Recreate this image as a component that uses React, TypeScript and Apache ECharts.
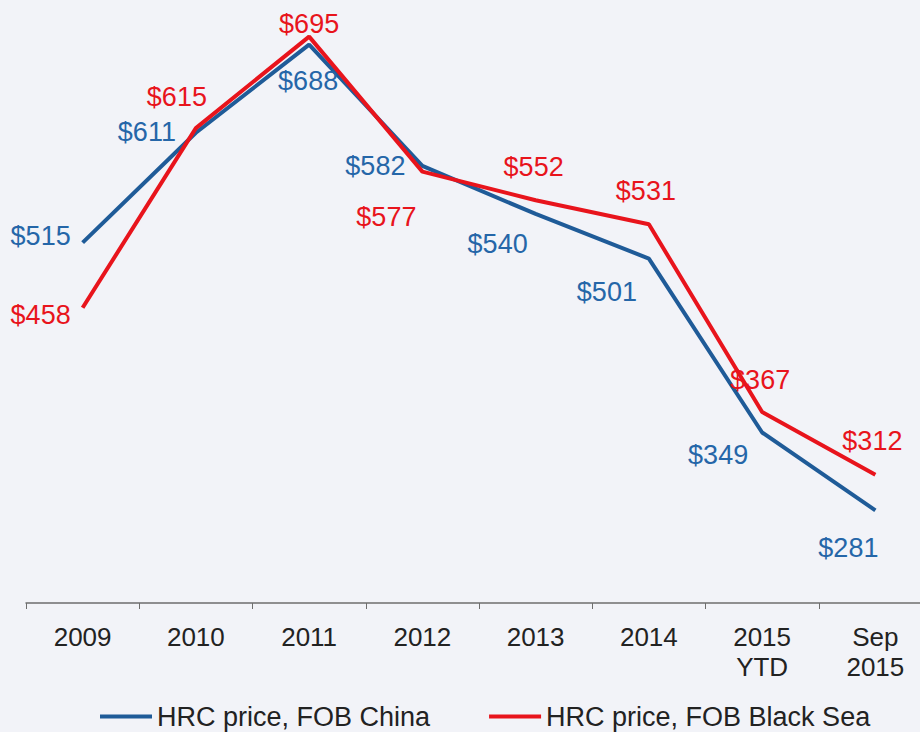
import React, { useEffect, useRef } from "react";
import * as echarts from "echarts";

const categories = ["2009", "2010", "2011", "2012", "2013", "2014", "2015\nYTD", "Sep\n2015"];
const chinaValues = [515, 611, 688, 582, 540, 501, 349, 281];
const blackSeaValues = [458, 615, 695, 577, 552, 531, 367, 312];
const seriesNames = ["HRC price, FOB China", "HRC price, FOB Black Sea"];

const chinaOffsets = [[-42, -7], [-49, -1], [-1, 36], [-47, 0], [-38, 30], [-42, 33], [-44, 22], [-27, 38]];
const blackSeaOffsets = [[-42, 7], [-19, -31], [0, -13], [-36, 45], [-2, -33], [-3, -33], [-2, -32], [-3, -34]];

const FONT = "'Liberation Sans', Arial, sans-serif";

function buildData(values: number[], offsets: number[][], color: string) {
  return values.map((v, i) => ({
    value: v,
    label: {
      show: true,
      position: "inside",
      offset: offsets[i],
      formatter: "${c}",
      color,
      fontSize: 27,
      fontFamily: FONT,
      align: "center",
      verticalAlign: "middle",
    },
  }));
}

export default function App() {
  const ref = useRef<HTMLDivElement>(null);
  useEffect(() => {
    if (!ref.current) return;
    const chart = echarts.init(ref.current, null, { renderer: "svg" });
    const blue = "#1f5b98";
    const red = "#e8141c";
    chart.setOption({
      animation: false,
      backgroundColor: "#f2f3f8",
      grid: { left: 26, width: 906, top: 8, height: 595, containLabel: false, outerBoundsMode: "none" },
      legend: {
        left: 100,
        top: 703,
        padding: 0,
        itemWidth: 52,
        itemHeight: 4,
        itemGap: 59,
        icon: "rect",
        textStyle: { fontSize: 27, fontFamily: FONT, color: "#222" },
        data: seriesNames,
      },
      xAxis: {
        type: "category",
        data: categories,
        boundaryGap: true,
        axisLine: { lineStyle: { color: "#6e6e6e", width: 1.5 } },
        axisTick: { show: true, length: 6, lineStyle: { color: "#6e6e6e" } },
        axisLabel: {
          fontSize: 26,
          fontFamily: FONT,
          color: "#222",
          lineHeight: 30,
          margin: 19,
          interval: 0,
        },
      },
      yAxis: {
        type: "value",
        min: 200,
        max: 720,
        show: false,
        splitLine: { show: false },
      },
      series: [
        {
          name: seriesNames[0],
          type: "line",
          data: buildData(chinaValues, chinaOffsets, "#2566a8"),
          symbol: "circle",
          symbolSize: 0.1,
          itemStyle: { color: blue },
          lineStyle: { color: blue, width: 4 },
          color: blue,
          z: 2,
        },
        {
          name: seriesNames[1],
          type: "line",
          data: buildData(blackSeaValues, blackSeaOffsets, "#e8141c"),
          symbol: "circle",
          symbolSize: 0.1,
          itemStyle: { color: red },
          lineStyle: { color: red, width: 4 },
          color: red,
          z: 3,
        },
      ],
    });
    return () => chart.dispose();
  }, []);
  return (
    <div
      ref={ref}
      style={{ position: "absolute", left: 0, top: 0, width: 920, height: 732 }}
    />
  );
}
